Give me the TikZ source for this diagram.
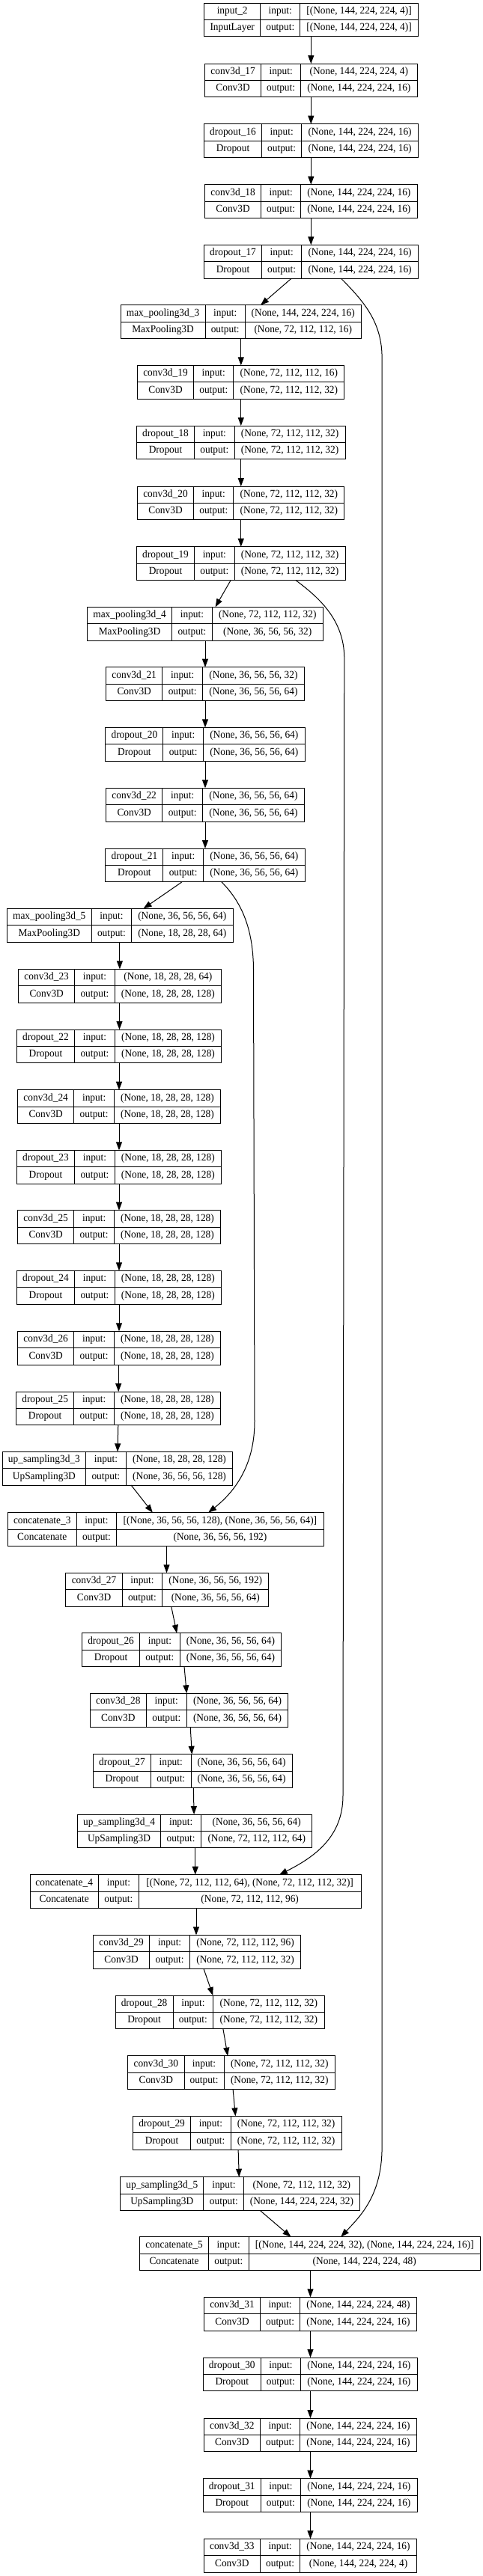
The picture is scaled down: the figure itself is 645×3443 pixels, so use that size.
\documentclass[tikz,border=0pt]{standalone}
\usepackage{fontspec}
\setmainfont{Liberation Serif}[FakeStretch=0.955]
\usetikzlibrary{arrows.meta}
\tikzset{
  box/.style={draw=black, line width=1pt, inner sep=0pt, outer sep=0pt, anchor=north west, minimum height=44.7pt},
  txt/.style={inner sep=0pt, anchor=base, font=\fontsize{14}{16}\selectfont},
  sep/.style={line width=1pt, black},
  arr/.style={-{Triangle[length=11pt,width=8pt]}, line width=1pt, black},
}
% #1 node, #2 x1, #3 d1, #4 d2, #5 x2, #6 ytop, #7 name, #8 type
\newcommand\lyr[8]{%
  \node[box, minimum width={#5-#2}] (#1) at (#2,#6) {};
  \draw[sep] (#3,#6) -- (#3,{#6+44.7});
  \draw[sep] (#4,#6) -- (#4,{#6+44.7});
  \draw[sep] (#2,{#6+22.35}) -- (#5,{#6+22.35});
  \node[txt] at ({(#2+#3)/2},{#6+14.5}) {#7};
  \node[txt] at ({(#2+#3)/2},{#6+36.8}) {#8};
  \node[txt] at ({(#3+#4)/2},{#6+14.5}) {input:};
  \node[txt] at ({(#3+#4)/2},{#6+36.8}) {output:};
  \gdef\Ld{#4}\gdef\Lr{#5}\gdef\Ly{#6}%
}
\newcommand\shp[2]{%
  \node[txt] at ({(\Ld+\Lr)/2},{\Ly+14.5}) {#1};
  \node[txt] at ({(\Ld+\Lr)/2},{\Ly+36.8}) {#2};
}
\newcommand\edge[4]{\draw[arr] (#1.south -| #2,0) -- (#3.north -| #4,0);}
\begin{document}
\begin{tikzpicture}[x=1pt,y=-1pt]
\fill[white] (0,0) rectangle (645,3443);
\useasboundingbox (0,0) rectangle (645,3443);

\lyr{i2}{272.7}{347.7}{400.9}{558.3}{4.0}{input\_2}{InputLayer}\shp{[(None, 144, 224, 224, 4)]}{[(None, 144, 224, 224, 4)]}
\lyr{c17}{273.6}{348.6}{401.7}{557.0}{85.0}{conv3d\_17}{Conv3D}\shp{(None, 144, 224, 224, 4)}{(None, 144, 224, 224, 16)}
\lyr{d16}{272.7}{349.4}{402.9}{558.3}{165.7}{dropout\_16}{Dropout}\shp{(None, 144, 224, 224, 16)}{(None, 144, 224, 224, 16)}
\lyr{c18}{273.6}{348.6}{401.7}{557.0}{246.7}{conv3d\_18}{Conv3D}\shp{(None, 144, 224, 224, 16)}{(None, 144, 224, 224, 16)}
\lyr{d17}{272.7}{349.4}{402.9}{558.3}{327.3}{dropout\_17}{Dropout}\shp{(None, 144, 224, 224, 16)}{(None, 144, 224, 224, 16)}
\lyr{mp3}{161.1}{274.0}{327.5}{482.0}{407.7}{max\_pooling3d\_3}{MaxPooling3D}\shp{(None, 144, 224, 224, 16)}{(None, 72, 112, 112, 16)}
\lyr{c19}{183.3}{258.7}{311.9}{459.8}{488.3}{conv3d\_19}{Conv3D}\shp{(None, 72, 112, 112, 16)}{(None, 72, 112, 112, 32)}
\lyr{d18}{182.5}{259.6}{313.1}{461.0}{569.0}{dropout\_18}{Dropout}\shp{(None, 72, 112, 112, 32)}{(None, 72, 112, 112, 32)}
\lyr{c20}{183.3}{258.7}{311.9}{459.8}{650.0}{conv3d\_20}{Conv3D}\shp{(None, 72, 112, 112, 32)}{(None, 72, 112, 112, 32)}
\lyr{d19}{182.5}{259.6}{313.1}{461.0}{730.7}{dropout\_19}{Dropout}\shp{(None, 72, 112, 112, 32)}{(None, 72, 112, 112, 32)}
\lyr{mp4}{116.6}{229.5}{283.5}{431.0}{811.3}{max\_pooling3d\_4}{MaxPooling3D}\shp{(None, 72, 112, 112, 32)}{(None, 36, 56, 56, 32)}
\lyr{c21}{141.7}{216.7}{270.7}{406.2}{891.7}{conv3d\_21}{Conv3D}\shp{(None, 36, 56, 56, 32)}{(None, 36, 56, 56, 64)}
\lyr{d20}{140.9}{217.9}{271.5}{407.1}{972.3}{dropout\_20}{Dropout}\shp{(None, 36, 56, 56, 64)}{(None, 36, 56, 56, 64)}
\lyr{c22}{141.7}{216.7}{270.7}{406.2}{1053.3}{conv3d\_22}{Conv3D}\shp{(None, 36, 56, 56, 64)}{(None, 36, 56, 56, 64)}
\lyr{d21}{140.9}{217.9}{271.5}{407.1}{1134.0}{dropout\_21}{Dropout}\shp{(None, 36, 56, 56, 64)}{(None, 36, 56, 56, 64)}
\lyr{mp5}{9.1}{122.4}{175.5}{311.1}{1214.3}{max\_pooling3d\_5}{MaxPooling3D}\shp{(None, 36, 56, 56, 64)}{(None, 18, 28, 28, 64)}
\lyr{c23}{24.7}{99.7}{153.3}{295.4}{1295.3}{conv3d\_23}{Conv3D}\shp{(None, 18, 28, 28, 64)}{(None, 18, 28, 28, 128)}
\lyr{d22}{22.2}{99.7}{153.3}{295.8}{1376.0}{dropout\_22}{Dropout}\shp{(None, 18, 28, 28, 128)}{(None, 18, 28, 28, 128)}
\lyr{c24}{23.5}{98.9}{152.4}{294.6}{1456.7}{conv3d\_24}{Conv3D}\shp{(None, 18, 28, 28, 128)}{(None, 18, 28, 28, 128)}
\lyr{d23}{22.2}{99.7}{153.3}{295.4}{1537.3}{dropout\_23}{Dropout}\shp{(None, 18, 28, 28, 128)}{(None, 18, 28, 28, 128)}
\lyr{c25}{23.5}{98.9}{152.4}{294.6}{1617.7}{conv3d\_25}{Conv3D}\shp{(None, 18, 28, 28, 128)}{(None, 18, 28, 28, 128)}
\lyr{d24}{22.2}{99.7}{153.3}{295.4}{1698.3}{dropout\_24}{Dropout}\shp{(None, 18, 28, 28, 128)}{(None, 18, 28, 28, 128)}
\lyr{c26}{23.5}{98.9}{152.4}{294.6}{1779.3}{conv3d\_26}{Conv3D}\shp{(None, 18, 28, 28, 128)}{(None, 18, 28, 28, 128)}
\lyr{d25}{21.4}{98.9}{152.4}{294.6}{1860.0}{dropout\_25}{Dropout}\shp{(None, 18, 28, 28, 128)}{(None, 18, 28, 28, 128)}
\lyr{up3}{3.3}{114.5}{168.5}{310.6}{1940.3}{up\_sampling3d\_3}{UpSampling3D}\shp{(None, 18, 28, 28, 128)}{(None, 36, 56, 56, 128)}
\lyr{cat3}{10.3}{102.2}{155.7}{432.2}{2021.7}{concatenate\_3}{Concatenate}\shp{[(None, 36, 56, 56, 128), (None, 36, 56, 56, 64)]}{(None, 36, 56, 56, 192)}
\lyr{c27}{87.8}{163.2}{216.7}{358.9}{2102.3}{conv3d\_27}{Conv3D}\shp{(None, 36, 56, 56, 192)}{(None, 36, 56, 56, 64)}
\lyr{d26}{109.6}{186.6}{240.2}{375.7}{2182.7}{dropout\_26}{Dropout}\shp{(None, 36, 56, 56, 64)}{(None, 36, 56, 56, 64)}
\lyr{c28}{120.3}{195.3}{249.3}{384.8}{2263.3}{conv3d\_28}{Conv3D}\shp{(None, 36, 56, 56, 64)}{(None, 36, 56, 56, 64)}
\lyr{d27}{124.4}{201.5}{255.0}{390.2}{2344.7}{dropout\_27}{Dropout}\shp{(None, 36, 56, 56, 64)}{(None, 36, 56, 56, 64)}
\lyr{up4}{103.4}{214.7}{268.6}{416.9}{2425.0}{up\_sampling3d\_4}{UpSampling3D}\shp{(None, 36, 56, 56, 64)}{(None, 72, 112, 112, 64)}
\lyr{cat4}{40.0}{131.4}{185.4}{482.0}{2505.7}{concatenate\_4}{Concatenate}\shp{[(None, 72, 112, 112, 64), (None, 72, 112, 112, 32)]}{(None, 72, 112, 112, 96)}
\lyr{c29}{124.4}{199.8}{253.4}{401.7}{2586.3}{conv3d\_29}{Conv3D}\shp{(None, 72, 112, 112, 96)}{(None, 72, 112, 112, 32)}
\lyr{d28}{154.1}{231.1}{284.7}{433.0}{2667.0}{dropout\_28}{Dropout}\shp{(None, 72, 112, 112, 32)}{(None, 72, 112, 112, 32)}
\lyr{c30}{170.6}{246.0}{299.1}{447.4}{2747.7}{conv3d\_30}{Conv3D}\shp{(None, 72, 112, 112, 32)}{(None, 72, 112, 112, 32)}
\lyr{d29}{177.6}{254.6}{308.2}{456.1}{2828.3}{dropout\_29}{Dropout}\shp{(None, 72, 112, 112, 32)}{(None, 72, 112, 112, 32)}
\lyr{up5}{160.7}{271.9}{325.9}{480.0}{2909.7}{up\_sampling3d\_5}{UpSampling3D}\shp{(None, 72, 112, 112, 32)}{(None, 144, 224, 224, 32)}
\lyr{cat5}{186.6}{278.5}{332.1}{641.5}{2989.7}{concatenate\_5}{Concatenate}\shp{[(None, 144, 224, 224, 32), (None, 144, 224, 224, 16)]}{(None, 144, 224, 224, 48)}
\lyr{c31}{272.7}{347.3}{400.9}{556.2}{3070.3}{conv3d\_31}{Conv3D}\shp{(None, 144, 224, 224, 48)}{(None, 144, 224, 224, 16)}
\lyr{d30}{271.5}{348.1}{401.7}{557.0}{3151.0}{dropout\_30}{Dropout}\shp{(None, 144, 224, 224, 16)}{(None, 144, 224, 224, 16)}
\lyr{c32}{272.3}{347.3}{400.9}{556.2}{3232.0}{conv3d\_32}{Conv3D}\shp{(None, 144, 224, 224, 16)}{(None, 144, 224, 224, 16)}
\lyr{d31}{271.5}{348.1}{401.7}{557.0}{3312.7}{dropout\_31}{Dropout}\shp{(None, 144, 224, 224, 16)}{(None, 144, 224, 224, 16)}
\lyr{c33}{272.3}{347.3}{400.9}{556.2}{3393.3}{conv3d\_33}{Conv3D}\shp{(None, 144, 224, 224, 16)}{(None, 144, 224, 224, 4)}

\edge{i2}{415.3}{c17}{415.3}
\edge{c17}{415.3}{d16}{415.3}
\edge{d16}{415.3}{c18}{415.3}
\edge{c18}{415.3}{d17}{415.3}
\edge{d17}{389.3}{mp3}{348.1}
\edge{mp3}{321.8}{c19}{321.8}
\edge{c19}{321.8}{d18}{321.8}
\edge{d18}{321.8}{c20}{321.8}
\edge{c20}{321.8}{d19}{321.8}
\edge{d19}{308.2}{mp4}{287.6}
\edge{mp4}{274.0}{c21}{274.0}
\edge{c21}{274.0}{d20}{274.0}
\edge{d20}{274.0}{c22}{274.0}
\edge{c22}{274.0}{d21}{274.0}
\edge{d21}{243.1}{mp5}{191.6}
\edge{mp5}{159.9}{c23}{159.9}
\edge{c23}{159.5}{d22}{159.5}
\edge{d22}{159.0}{c24}{159.0}
\edge{c24}{159.0}{d23}{159.0}
\edge{d23}{159.0}{c25}{159.0}
\edge{c25}{159.0}{d24}{159.0}
\edge{d24}{159.0}{c26}{159.0}
\edge{c26}{158.2}{d25}{158.2}
\edge{d25}{157.8}{up3}{157.0}
\edge{up3}{175.1}{cat3}{203.9}
\edge{cat3}{222.5}{c27}{222.5}
\edge{c27}{228.7}{d26}{236.1}
\edge{d26}{246.0}{c28}{249.3}
\edge{c28}{254.2}{d27}{256.3}
\edge{d27}{258.3}{up4}{259.1}
\edge{up4}{260.8}{cat4}{260.8}
\edge{cat4}{262.0}{c29}{262.0}
\edge{c29}{271.9}{d28}{284.3}
\edge{d28}{297.9}{c30}{304.1}
\edge{c30}{311.1}{d29}{314.4}
\edge{d29}{318.1}{up5}{319.3}
\edge{up5}{347.3}{cat5}{388.5}
\edge{cat5}{414.5}{c31}{414.5}
\edge{c31}{414.5}{d30}{414.5}
\edge{d30}{414.5}{c32}{414.5}
\edge{c32}{414.5}{d31}{414.5}
\edge{d31}{414.5}{c33}{414.5}

% skip connections
\draw[arr] (d17.south -| 455.3,0) .. controls (485,402) and (510.1,430) .. (510.1,478)
  -- (510.1,2870) .. controls (510.1,2935) and (480,2963) .. (cat5.north -| 455.3,0);
\draw[arr] (d19.south -| 394.7,0) .. controls (428,800) and (459.8,830) .. (459.8,880)
  -- (458,2400) .. controls (458,2455) and (420,2482) .. (cat4.north -| 372.9,0);
\draw[arr] (d21.south -| 295.8,0) .. controls (322,1205) and (338,1240) .. (338.5,1295)
  -- (340,1900) .. controls (340,1960) and (312,1995) .. (cat3.north -| 278.1,0);
\end{tikzpicture}
\end{document}
